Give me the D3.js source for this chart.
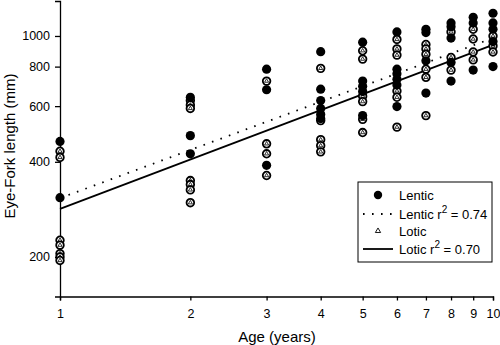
<!DOCTYPE html>
<html lang="en">
<head>
    <meta charset="UTF-8">
    <title>Eye-Fork length by age</title>
</head>
<body style="margin:0;background:#fff;">
<style>
    text { font-family: "Liberation Sans", Arial, sans-serif; fill: #000; }
    .axis path, .axis line { stroke: #000; stroke-width: 1.3; }
    .axis text { font-size: 12.5px; }
</style>
<script src="https://d3js.org/d3.v7.min.js"></script>
<script>
    // ages 1..10 and lengths (mm)
    var ages = [1, 2, 3, 4, 5, 6, 7, 8, 9, 10];
    var lentic = [
        [464, 308],
        [640, 484, 424],
        [785, 676, 390],
        [892, 679, 625, 590, 565, 548],
        [956, 720, 693, 668, 560],
        [1030, 785, 760, 730, 700, 598],
        [1050, 1025, 835, 660],
        [1100, 1070, 985, 825, 720],
        [1145, 1100, 780],
        [1180, 1100, 1050, 960, 800]
    ];
    var lotic = [
        [432, 413, 226, 218, 205, 200, 195],
        [625, 605, 590, 349, 339, 326, 297],
        [720, 456, 424, 362],
        [790, 540, 470, 450, 430],
        [898, 845, 645, 620, 545, 495],
        [975, 910, 870, 670, 640, 515],
        [940, 910, 875, 785, 740, 560],
        [1030, 855, 780],
        [1050, 978, 890, 840],
        [1000, 930, 890]
    ];
    // fitted lines, end points at age 1 and age 10
    var lenticFit = [[1, 307], [10, 985]];
    var loticFit = [[1, 284], [10, 937]];
    var xTicks = [1, 2, 3, 4, 5, 6, 7, 8, 9, 10];
    var yTicks = [200, 400, 600, 800, 1000];

    var width = 500, height = 345;
    var svg = d3.select("body").append("svg")
        .attr("width", width)
        .attr("height", height);

    var x = d3.scaleLog().domain([1, 10]).range([60, 493]);
    var y = d3.scaleLog().domain([150, 1290]).range([296.5, 1]);

    // axes
    svg.append("g")
        .attr("class", "axis")
        .attr("transform", "translate(0,296.5)")
        .call(d3.axisBottom(x).tickValues(xTicks).tickFormat(d3.format("d")).tickSizeOuter(0).tickSize(4).tickPadding(9));
    svg.append("g")
        .attr("class", "axis")
        .attr("transform", "translate(60,0)")
        .call(d3.axisLeft(y).tickValues(yTicks).tickFormat(d3.format("d")).tickSizeOuter(0).tickSize(5).tickPadding(5));

    svg.append("text")
        .attr("x", 277).attr("y", 342)
        .attr("text-anchor", "middle")
        .style("font-size", "15px")
        .text("Age (years)");
    svg.append("text")
        .attr("transform", "translate(15,146) rotate(-90)")
        .attr("text-anchor", "middle")
        .style("font-size", "15px")
        .text("Eye-Fork length (mm)");

    // regression lines
    var line = d3.line()
        .x(function(d) { return x(d[0]); })
        .y(function(d) { return y(d[1]); });
    svg.append("path")
        .attr("d", line(lenticFit))
        .attr("fill", "none")
        .attr("stroke", "#000")
        .attr("stroke-width", 1.8)
        .attr("stroke-dasharray", "1.6,7.4");
    svg.append("path")
        .attr("d", line(loticFit))
        .attr("fill", "none")
        .attr("stroke", "#000")
        .attr("stroke-width", 1.8);

    function flatten(groups) {
        var out = [];
        groups.forEach(function(vals, i) {
            vals.forEach(function(v) { out.push({age: ages[i], len: v}); });
        });
        return out;
    }

    var tri = d3.symbol().type(d3.symbolTriangle).size(7);

    // lotic: ring with a small triangle inside
    var lo = svg.selectAll(".lotic")
        .data(flatten(lotic))
        .enter().append("g")
        .attr("class", "lotic")
        .attr("transform", function(d) { return "translate(" + x(d.age) + "," + y(d.len) + ")"; });
    lo.append("circle")
        .attr("r", 3.8)
        .attr("fill", "#fff")
        .attr("stroke", "#000")
        .attr("stroke-width", 1.8);
    lo.append("path")
        .attr("d", tri)
        .attr("fill", "none")
        .attr("stroke", "#000")
        .attr("stroke-width", 0.8);

    // lentic: filled circles
    svg.selectAll(".lentic")
        .data(flatten(lentic))
        .enter().append("circle")
        .attr("class", "lentic")
        .attr("cx", function(d) { return x(d.age); })
        .attr("cy", function(d) { return y(d.len); })
        .attr("r", 4.6)
        .attr("fill", "#000");

    // legend
    var lg = svg.append("g");
    lg.append("rect")
        .attr("x", 358).attr("y", 182)
        .attr("width", 134).attr("height", 80)
        .attr("fill", "#fff")
        .attr("stroke", "#000")
        .attr("stroke-width", 1);
    lg.append("circle").attr("cx", 378).attr("cy", 195).attr("r", 4.2).attr("fill", "#000");
    lg.append("line").attr("x1", 363).attr("x2", 394).attr("y1", 214).attr("y2", 214)
        .attr("stroke", "#000").attr("stroke-width", 1.8).attr("stroke-dasharray", "1.6,7.4");
    lg.append("path").attr("d", d3.symbol().type(d3.symbolTriangle).size(12))
        .attr("transform", "translate(378,231)")
        .attr("fill", "none").attr("stroke", "#000").attr("stroke-width", 0.9);
    lg.append("line").attr("x1", 363).attr("x2", 393).attr("y1", 249).attr("y2", 249)
        .attr("stroke", "#000").attr("stroke-width", 1.8);

    var labels = [
        {y: 200, t: "Lentic", sup: null},
        {y: 219, t: "Lentic r", sup: "2", rest: " = 0.74"},
        {y: 236, t: "Lotic", sup: null},
        {y: 254, t: "Lotic r", sup: "2", rest: " = 0.70"}
    ];
    labels.forEach(function(l) {
        var t = lg.append("text").attr("x", 399).attr("y", l.y).style("font-size", "13px");
        t.append("tspan").text(l.t);
        if (l.sup) {
            t.append("tspan").attr("dy", -6).style("font-size", "10px").text(l.sup);
            t.append("tspan").attr("dy", 6).text(l.rest);
        }
    });
</script>
</body>
</html>
